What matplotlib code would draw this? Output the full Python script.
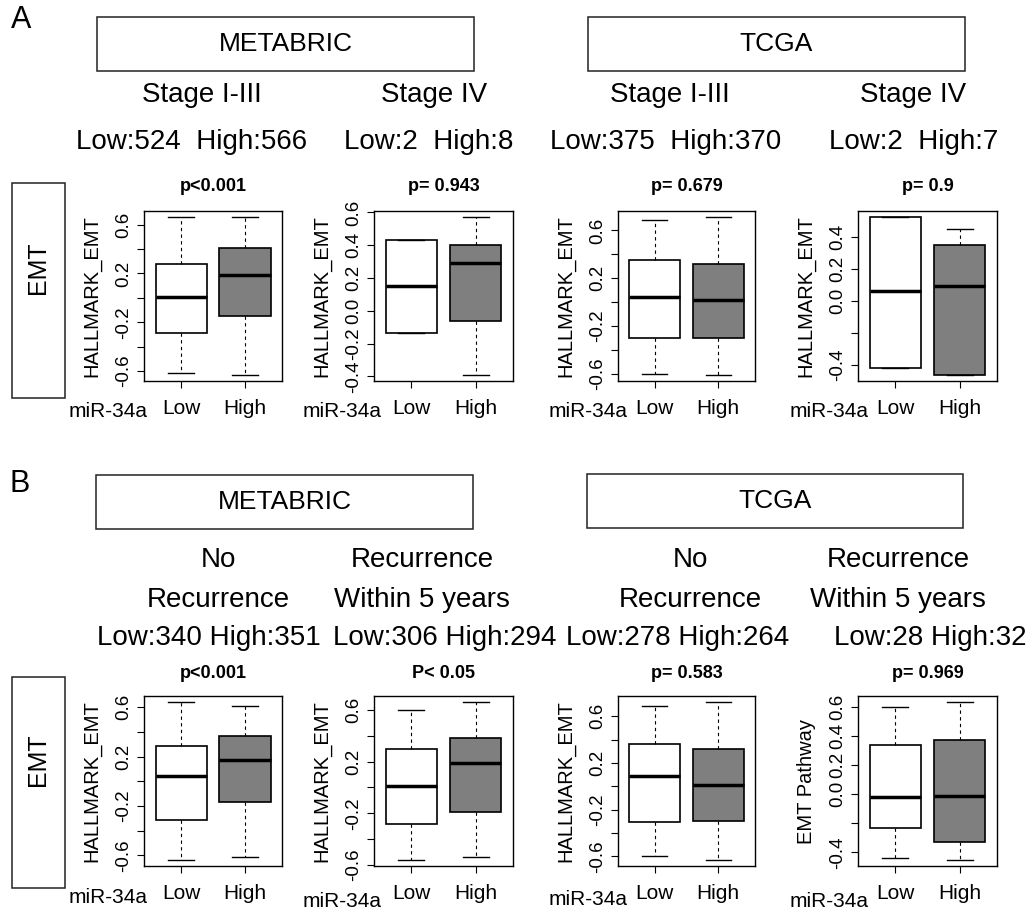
import matplotlib
matplotlib.use("Agg")
import matplotlib.pyplot as plt
from matplotlib.patches import Rectangle

plt.rcParams["font.family"] = ["Liberation Sans", "DejaVu Sans"]
plt.rcParams["axes.unicode_minus"] = False

W, H = 1034, 909

groups = ["Low", "High"]

# five numbers per group: whisker low, Q1, median, Q3, whisker high
meta_stage13 = [[-0.62, -0.29, 0.01, 0.28, 0.66], [-0.63, -0.15, 0.19, 0.41, 0.66]]
meta_stage4 = [[-0.135, -0.135, 0.15, 0.43, 0.43], [-0.39, -0.06, 0.29, 0.40, 0.57]]
tcga_stage13 = [[-0.60, -0.30, 0.04, 0.35, 0.69], [-0.61, -0.30, 0.02, 0.32, 0.71]]
tcga_stage4 = [[-0.42, -0.42, 0.06, 0.52, 0.52], [-0.46, -0.46, 0.09, 0.345, 0.45]]
meta_norec = [[-0.635, -0.31, 0.04, 0.29, 0.64], [-0.61, -0.17, 0.17, 0.37, 0.61]]
meta_rec5 = [[-0.56, -0.28, 0.01, 0.30, 0.60], [-0.54, -0.19, 0.19, 0.38, 0.66]]
tcga_norec = [[-0.60, -0.31, 0.085, 0.36, 0.69], [-0.63, -0.30, 0.01, 0.32, 0.72]]
tcga_rec5 = [[-0.44, -0.23, -0.02, 0.34, 0.60], [-0.45, -0.33, -0.01, 0.37, 0.63]]

# y ticks and which of them carry a label
ticks_wide = [-0.6, -0.4, -0.2, 0.0, 0.2, 0.4, 0.6]
labels_wide = [-0.6, -0.2, 0.2, 0.6]
ticks_a2 = [-0.4, -0.2, 0.0, 0.2, 0.4, 0.6]
ticks_a4 = [-0.4, -0.2, 0.0, 0.2, 0.4]
labels_a4 = [-0.4, 0.0, 0.2, 0.4]
labels_b4 = [-0.4, 0.0, 0.2, 0.4, 0.6]

pvals_a = ["p<0.001", "p= 0.943", "p= 0.679", "p= 0.9"]
pvals_b = ["p<0.001", "P< 0.05", "p= 0.583", "p= 0.969"]
counts_a = ["Low:524  High:566", "Low:2  High:8", "Low:375  High:370", "Low:2  High:7"]
counts_b = ["Low:340 High:351", "Low:306 High:294", "Low:278 High:264", "Low:28 High:32"]
stages = ["Stage I-III", "Stage IV", "Stage I-III", "Stage IV"]
recur_top = ["No", "Recurrence", "No", "Recurrence"]
recur_bot = ["Recurrence", "Within 5 years", "Recurrence", "Within 5 years"]
cohorts = ["METABRIC", "TCGA"]

fig = plt.figure(figsize=(W / 100, H / 100), dpi=100)


def fx(x):
    return x / W


def fy(y):
    return 1 - y / H


def label(v):
    return f"{round(v, 1) + 0.0:.1f}"


def draw_panel(x0, x1, y0, y1, data, ticks, labeled, ylab):
    ax = fig.add_axes([fx(x0), fy(y1), (x1 - x0) / W, (y1 - y0) / H])
    stats = [dict(label=g, whislo=s[0], q1=s[1], med=s[2], q3=s[3], whishi=s[4], fliers=[])
             for g, s in zip(groups, data)]
    bp = ax.bxp(stats, positions=[1, 2], widths=0.8, capwidths=0.4, patch_artist=True,
                showfliers=False, manage_ticks=False,
                boxprops=dict(linewidth=1.2, edgecolor="black"),
                medianprops=dict(color="black", linewidth=2.5),
                whiskerprops=dict(color="black", linewidth=0.8, linestyle=(0, (3, 3))),
                capprops=dict(color="black", linewidth=1.0))
    for patch, c in zip(bp["boxes"], ["white", "#7f7f7f"]):
        patch.set_facecolor(c)
    lo = min(s[0] for s in data)
    hi = max(s[4] for s in data)
    pad = 0.04 * (hi - lo)
    ax.set_xlim(0.42, 2.58)
    ax.set_ylim(lo - pad, hi + pad)
    ax.set_yticks(ticks)
    ax.set_yticklabels([label(t) if any(abs(t - l) < 1e-9 for l in labeled) else "" for t in ticks],
                       rotation=90, va="center", fontsize=13.5)
    ax.set_xticks([1, 2])
    ax.set_xticklabels(groups, fontsize=15)
    ax.tick_params(axis="both", length=5, width=0.8)
    ax.tick_params(axis="y", pad=3.5)
    ax.tick_params(axis="x", pad=8)
    for sp in ax.spines.values():
        sp.set_linewidth(1.0)
    fig.text(fx(x0 - 52), fy((y0 + y1) / 2), ylab, rotation=90, ha="center", va="center",
             fontsize=14.5)
    return ax


cols = [(144, 282), (374, 513), (618, 755), (858, 997)]
rows = [(211, 381), (696, 866)]

panels_a = [meta_stage13, meta_stage4, tcga_stage13, tcga_stage4]
panels_b = [meta_norec, meta_rec5, tcga_norec, tcga_rec5]
ticks_a = [(ticks_wide, labels_wide), (ticks_a2, ticks_a2), (ticks_wide, labels_wide), (ticks_a4, labels_a4)]
ticks_b = [(ticks_wide, labels_wide), (ticks_wide, labels_wide), (ticks_wide, labels_wide), (ticks_a2, labels_b4)]
ylabels_b = ["HALLMARK_EMT", "HALLMARK_EMT", "HALLMARK_EMT", "EMT Pathway"]

for i, (x0, x1) in enumerate(cols):
    draw_panel(x0, x1, *rows[0], panels_a[i], ticks_a[i][0], ticks_a[i][1], "HALLMARK_EMT")
    draw_panel(x0, x1, *rows[1], panels_b[i], ticks_b[i][0], ticks_b[i][1], ylabels_b[i])

# panel letters and cohort boxes
fig.text(fx(21), fy(20), "A", fontsize=22, ha="center", va="center")
fig.text(fx(20), fy(484), "B", fontsize=22, ha="center", va="center")
for (bx0, bx1, by0, by1), name in zip([(97, 474, 17, 71), (588, 965, 17, 71),
                                       (96, 473, 475, 529), (587, 963, 474, 528)],
                                      cohorts * 2):
    fig.add_artist(Rectangle((fx(bx0), fy(by1)), (bx1 - bx0) / W, (by1 - by0) / H,
                             transform=fig.transFigure, fill=False, lw=1.1, ec="#222222"))
    fig.text(fx((bx0 + bx1) / 2), fy((by0 + by1) / 2), name, fontsize=19,
             ha="center", va="center")

# row labels
for by0, by1, ty in [(183, 398, 268), (677, 888, 760)]:
    fig.add_artist(Rectangle((fx(12), fy(by1)), 53 / W, (by1 - by0) / H,
                             transform=fig.transFigure, fill=False, lw=1.1, ec="#222222"))
    fig.text(fx(38), fy(ty), "EMT", rotation=90, fontsize=18, ha="center", va="center")

# column headings, row A
stage_x = [202, 434, 670, 913]
count_a_x = [192, 429, 666, 914]
for i in range(4):
    fig.text(fx(stage_x[i]), fy(102), stages[i], fontsize=20, ha="center", va="baseline")
    fig.text(fx(count_a_x[i]), fy(149), counts_a[i], fontsize=20, ha="center", va="baseline")
    xc = (cols[i][0] + cols[i][1]) / 2
    fig.text(fx(xc), fy(191), pvals_a[i], fontsize=13, fontweight="bold",
             ha="center", va="baseline")

# column headings, row B
rec_x = [218, 422, 690, 898]
count_b_x = [209, 445, 678, 930]
for i in range(4):
    fig.text(fx(rec_x[i]), fy(567), recur_top[i], fontsize=20, ha="center", va="baseline")
    fig.text(fx(rec_x[i]), fy(607), recur_bot[i], fontsize=20, ha="center", va="baseline")
    fig.text(fx(count_b_x[i]), fy(645), counts_b[i], fontsize=20, ha="center", va="baseline")
    xc = (cols[i][0] + cols[i][1]) / 2
    fig.text(fx(xc), fy(678), pvals_b[i], fontsize=13, fontweight="bold",
             ha="center", va="baseline")

# group variable name left of the x tick labels
mir_x = [108, 342, 588, 829]
mir_y_a = [417, 417, 417, 417]
mir_y_b = [903, 907, 905, 907]
for i in range(4):
    fig.text(fx(mir_x[i]), fy(mir_y_a[i]), "miR-34a", fontsize=15, ha="center", va="baseline")
    fig.text(fx(mir_x[i]), fy(mir_y_b[i]), "miR-34a", fontsize=15, ha="center", va="baseline")

fig.savefig("out.png", dpi=100, facecolor="white")
